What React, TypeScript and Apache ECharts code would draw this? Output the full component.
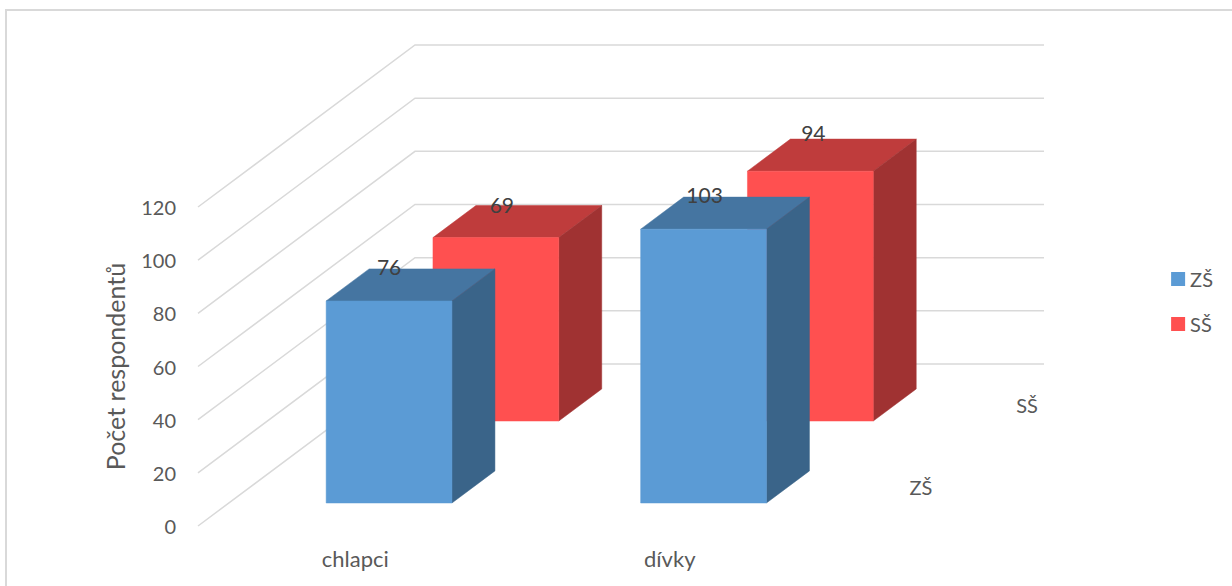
import React, { useEffect, useRef } from "react";
import * as echarts from "echarts";

const categories = ["chlapci", "dívky"];
const seriesNames = ["ZŠ", "SŠ"];
const zsValues = [76, 103];
const ssValues = [69, 94];
const yTicks = [0, 20, 40, 60, 80, 100, 120];

const FONT = "Lato, 'Noto Sans', sans-serif";
const TEXT = "#595959";
const LABEL = "#404040";
const GRID = "#d9d9d9";

// Oblique projection: how far one full unit of depth moves a point on screen.
const DEPTH_X = 217;
const DEPTH_Y = -162;
const BAR_RATIO = 0.4;

type Palette = { front: string; top: string; side: string };
const zsPalette: Palette = { front: "#5b9bd5", top: "#4575a1", side: "#3a6489" };
const ssPalette: Palette = { front: "#ff5050", top: "#bf3c3c", side: "#a03232" };

function quad(points: number[][], fill: string) {
  return {
    type: "polygon",
    shape: { points },
    style: { fill, stroke: fill, lineWidth: 0.5 },
  };
}

function boxSeries(
  name: string,
  values: number[],
  palette: Palette,
  depthFrom: number,
  depthTo: number,
  nudgeX: number,
  labelShifts: number[][],
  z: number,
) {
  return {
    name,
    type: "custom",
    coordinateSystem: "cartesian2d",
    z,
    itemStyle: { color: palette.front },
    data: values.map((v, i) => [i, v]),
    renderItem: (params: any, api: any) => {
      const cat = api.value(0);
      const val = api.value(1);
      const top = api.coord([cat, val]);
      const base = api.coord([cat, 0]);
      const w = api.size([1, 0])[0] * BAR_RATIO;
      const x0 = top[0] - w / 2 + DEPTH_X * depthFrom + nudgeX;
      const x1 = x0 + w;
      const yTop = top[1] + DEPTH_Y * depthFrom;
      const yBase = base[1] + DEPTH_Y * depthFrom;
      const dx = DEPTH_X * (depthTo - depthFrom);
      const dy = DEPTH_Y * (depthTo - depthFrom);
      const shift = labelShifts[params.dataIndex];
      return {
        type: "group",
        children: [
          quad([[x0, yTop], [x1, yTop], [x1 + dx, yTop + dy], [x0 + dx, yTop + dy]], palette.top),
          quad([[x1, yTop], [x1 + dx, yTop + dy], [x1 + dx, yBase + dy], [x1, yBase]], palette.side),
          quad([[x0, yTop], [x1, yTop], [x1, yBase], [x0, yBase]], palette.front),
          {
            type: "text",
            style: {
              x: x0 + w / 2 + shift[0],
              y: yTop + shift[1],
              text: String(val),
              fill: LABEL,
              font: `21px ${FONT}`,
              align: "center",
              verticalAlign: "middle",
            },
          },
        ],
      };
    },
  };
}

export default function App() {
  const ref = useRef<HTMLDivElement>(null);

  useEffect(() => {
    const chart = echarts.init(ref.current!, undefined, { renderer: "svg" });
    chart.setOption({
      animation: false,
      backgroundColor: "#ffffff",
      textStyle: { fontFamily: FONT },
      graphic: [
        {
          type: "polyline",
          silent: true,
          shape: { points: [[1232, 10], [6, 10], [6, 586]] },
          style: { stroke: GRID, lineWidth: 2, fill: "none" },
        },
      ],
      legend: {
        right: 14,
        top: 264,
        orient: "vertical",
        data: seriesNames,
        icon: "rect",
        itemWidth: 14,
        itemHeight: 14,
        itemGap: 25,
        textStyle: { color: TEXT, fontSize: 20, fontFamily: FONT },
      },
      grid: { left: 198, top: 207, width: 629, height: 319, containLabel: false },
      xAxis: {
        type: "category",
        data: categories,
        axisLine: { show: false },
        axisTick: { show: false },
        axisLabel: { color: TEXT, fontSize: 22, fontFamily: FONT, margin: 21 },
      },
      yAxis: {
        type: "value",
        min: 0,
        max: 120,
        interval: 20,
        name: "Počet respondentů",
        nameLocation: "middle",
        nameGap: 71,
        nameTextStyle: { color: TEXT, fontSize: 25, fontFamily: FONT },
        axisLine: { show: false },
        axisTick: { show: false },
        splitLine: { show: false },
        axisLabel: { color: TEXT, fontSize: 20, fontFamily: FONT, margin: 22, padding: [4, 0, 0, 0] },
      },
      series: [
        {
          // Side wall diagonals and back wall lines, one pair per tick.
          type: "custom",
          coordinateSystem: "cartesian2d",
          z: 1,
          silent: true,
          legendHoverLink: false,
          data: yTicks.map((t) => [0, t]),
          renderItem: (params: any, api: any) => {
            const y = api.coord([0, api.value(1)])[1];
            const left = params.coordSys.x;
            const right = left + params.coordSys.width;
            const line = { stroke: GRID, lineWidth: 1.5, fill: "none" };
            return {
              type: "polyline",
              shape: {
                points: [
                  [left, y],
                  [left + DEPTH_X, y + DEPTH_Y],
                  [right + DEPTH_X, y + DEPTH_Y],
                ],
              },
              style: line,
            };
          },
        },
        boxSeries("SŠ", ssValues, ssPalette, 0.648, 0.846, 0, [[6, -33], [3, -39]], 2),
        boxSeries("ZŠ", zsValues, zsPalette, 0.142, 0.34, 3, [[0, -34], [1, -35]], 3),
        {
          // Names along the depth axis, at the right end of the floor.
          type: "custom",
          coordinateSystem: "cartesian2d",
          z: 4,
          silent: true,
          legendHoverLink: false,
          data: [
            [1, 0, 0],
            [1, 0, 1],
          ],
          renderItem: (params: any, api: any) => {
            const idx = api.value(2);
            const y = api.coord([0, 0])[1];
            const right = params.coordSys.x + params.coordSys.width;
            return {
              type: "text",
              style: {
                x: right + (idx === 0 ? 94 : 200),
                y: y + (idx === 0 ? -39 : -121),
                text: seriesNames[idx],
                fill: TEXT,
                font: `20px ${FONT}`,
                align: "center",
                verticalAlign: "middle",
              },
            };
          },
        },
      ],
    });
    return () => chart.dispose();
  }, []);

  return <div ref={ref} style={{ position: "fixed", left: 0, top: 0, width: 1232, height: 586 }} />;
}
